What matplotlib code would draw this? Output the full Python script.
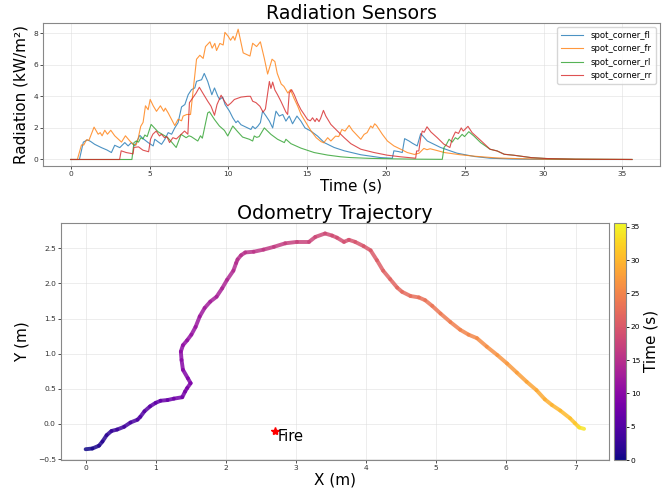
import matplotlib
matplotlib.use("Agg")
import matplotlib.pyplot as plt
import numpy as np
from matplotlib.collections import LineCollection

# radiation sensors (time s, kW/m2)
fl_t = [0, 0.55, 0.8, 1.06, 1.25, 1.52, 1.95, 2.3, 2.58, 2.79, 3.11, 3.43, 3.64, 3.85, 4.06, 4.38, 4.59,
        4.91, 5.23, 5.33, 5.5, 5.76, 5.97, 6.18, 6.4, 6.6, 6.81, 7.03, 7.24, 7.45, 7.66, 7.87, 7.98, 8.3,
        8.47, 8.69, 8.95, 9.12, 9.33, 9.45, 9.64, 9.79, 10.07, 10.28, 10.48, 10.6, 10.8, 11.22, 11.43,
        11.54, 11.7, 11.86, 12.03, 12.17, 12.39, 12.6, 12.81, 13.02, 13.23, 13.45, 13.65, 13.86, 14.07,
        14.35, 14.6, 14.86, 15.23, 15.66, 16.08, 16.71, 17.35, 18.4, 19.66, 20.4, 20.5, 20.8, 21.03,
        21.18, 21.46, 21.67, 21.98, 22.2, 22.62, 23.46, 24.5, 25.6, 26.6, 28, 30, 33, 35.6]
fl_v = [0, 0, 1.1, 1.24, 1.15, 0.96, 0.75, 0.6, 0.44, 0.9, 0.75, 1.07, 0.86, 1.07, 0.86, 1.53, 1.32,
        1.07, 0.86, 1.28, 1.15, 0.96, 1.28, 1.7, 1.6, 2.0, 2.33, 3.33, 3.48, 4.1, 4.42, 4.53, 4.95, 5.05,
        5.45, 4.94, 4.1, 4.53, 4.0, 3.8, 3.95, 3.48, 3.06, 2.64, 2.33, 2.45, 2.2, 2.0, 1.9,
        2.1, 1.95, 2.1, 2.33, 3.06, 2.75, 2.43, 2.0, 3.06, 2.75, 2.85, 2.43, 2.75, 2.26,
        2.75, 2.43, 2.0, 1.8, 1.48, 1.07, 0.76, 0.55, 0.3, 0.12, 0.08, 0.55, 0.5, 0.44,
        1.32, 1.17, 1.03, 0.86, 1.64, 1.17, 0.76, 0.4, 0.19, 0.08, 0.03, 0.01, 0, 0]

fr_t = [0, 0.42, 0.68, 0.83, 1.0, 1.15, 1.48, 1.74, 1.87, 1.99, 2.16, 2.33, 2.54, 2.79, 3.22, 3.47, 3.75,
        3.96, 4.15, 4.27, 4.44, 4.59, 4.74, 4.91, 5.04, 5.23, 5.44, 5.69, 5.9, 6.0, 6.18, 6.6, 6.81, 7.03,
        7.13, 7.36, 7.6, 7.98, 8.19, 8.4, 8.55, 8.83, 8.97, 9.14, 9.25, 9.46, 9.67, 9.78, 9.99, 10.14,
        10.3, 10.41, 10.62, 10.79, 10.94, 11.37, 11.54, 11.79, 12.03, 12.28, 12.49, 12.77, 12.95, 13.1,
        13.35, 13.52, 13.77, 13.94, 14.15, 14.4, 14.61, 14.93, 15.25, 15.57, 15.88, 16.05, 16.3, 16.5,
        16.8, 17.0, 17.2, 17.4, 17.66, 17.87, 18.4, 18.61, 18.8, 19.03, 19.15, 19.28, 19.4, 19.77, 20.09,
        20.5, 20.93, 21.35, 21.8, 22.1, 22.4, 22.6, 22.8, 23.3, 23.7, 24.7, 25.7, 27, 28.5, 30, 32, 35.6]
fr_v = [0, 0, 0.92, 0.92, 1.25, 1.2, 2.05, 1.6, 1.7, 1.5, 1.85, 1.6, 1.85, 1.5, 1.1, 1.5, 1.17,
        0.96, 0.92, 1.3, 2.1, 2.35, 3.4, 3.15, 3.8, 3.4, 3.05, 3.4, 3.05, 3.25, 2.95, 2.15, 2.55, 2.45,
        2.75, 2.85, 2.85, 6.35, 6.6, 6.4, 7.15, 7.45, 7.05, 7.35, 6.9, 7.35, 7.25, 8.05, 7.8, 7.55,
        7.8, 7.55, 8.25, 7.45, 6.75, 6.55, 7.36, 7.15, 7.45, 6.4, 5.41, 6.35, 6.2, 5.45,
        4.78, 4.63, 4.21, 4.42, 3.9, 3.37, 2.85, 2.32, 1.8, 1.38, 1.13, 1.06, 1.38, 1.17,
        1.48, 1.45, 1.9, 1.8, 2.16, 1.84, 1.28, 1.59, 1.7, 2.12, 2.0, 2.26, 2.15, 1.59, 1.17,
        0.86, 0.65, 0.44, 0.32, 0.4, 0.7, 0.62, 0.68, 0.55, 0.44, 0.3, 0.2, 0.1, 0.05, 0.02, 0.01, 0]

rl_t = [0, 3.88, 4.01, 4.16, 4.3, 4.45, 4.58, 4.7, 4.85, 5.1, 5.53, 6.16, 6.69, 7.0, 7.32, 7.5, 7.64,
        8.06, 8.23, 8.35, 8.69, 8.8, 9.12, 9.43, 9.75, 9.96, 10.28, 10.59, 10.9, 11.33, 11.54, 11.64,
        11.8, 11.95, 12.28, 12.7, 13.12, 13.55, 13.65, 13.97, 14.6, 15.44, 16.29, 17.13, 17.77, 19, 20.5,
        22, 23.57, 23.68, 23.84, 24.0, 24.2, 24.4, 24.55, 24.83, 24.98, 25.25, 25.57, 26.0, 26.6, 27.05,
        27.5, 28.1, 29.2, 30.2, 32, 35.6]
rl_v = [0, 0, 1.07, 1.17, 1.1, 1.38, 1.3, 1.55, 1.45, 2.22, 1.76, 1.38, 0.76, 1.59, 1.38, 1.5, 1.45,
        1.17, 1.5, 1.35, 2.95, 3.02, 2.53, 2.12, 1.84, 1.49, 2.12, 1.76, 1.42, 1.28, 1.17, 1.49,
        1.4, 1.45, 2.0, 1.59, 1.28, 1.07, 1.28, 1.0, 0.72, 0.44, 0.28, 0.17, 0.12, 0.07, 0.04,
        0.02, 0.01, 0.76, 0.97, 1.28, 1.1, 1.38, 1.28, 1.59, 1.45, 1.76, 1.49, 1.07, 0.65, 0.54,
        0.33, 0.27, 0.12, 0.06, 0.02, 0]

rr_t = [0, 3.1, 3.2, 3.52, 3.84, 3.95, 4.01, 4.3, 4.58, 4.94, 5.06, 5.21, 5.42, 5.63, 5.75, 5.95, 6.1,
        6.27, 6.48, 6.7, 7.0, 7.22, 7.43, 7.53, 7.74, 7.95, 8.16, 8.38, 8.69, 8.9, 9.12, 9.28, 9.54,
        9.75, 9.96, 10.17, 10.38, 10.8, 11.22, 11.4, 11.54, 11.75, 12.0, 12.2, 12.35, 12.6, 12.7, 12.81,
        12.95, 13.12, 13.33, 13.65, 13.76, 13.86, 14.01, 14.18, 14.39, 14.6, 14.81, 15.02, 15.2, 15.34,
        15.5, 15.6, 15.75, 15.85, 16.03, 16.18, 16.5, 16.92, 17.35, 17.77, 18.4, 19.24, 20.09, 20.93,
        21.88, 21.94, 22.08, 22.2, 22.3, 22.42, 22.6, 22.85, 23.25, 23.67, 24.05, 24.2, 24.4, 24.6,
        24.77, 24.9, 25.2, 25.46, 25.99, 26.6, 27.05, 27.5, 28.1, 29.2, 30.2, 32, 35.6]
rr_v = [0, 0, 0.55, 0.44, 0.38, 0.35, 0.76, 0.8, 0.59, 0.49, 1.28, 1.6, 1.8, 1.49, 1.6, 1.38, 1.45,
        1.07, 1.38, 1.3, 1.59, 1.8, 1.6, 3.6, 3.9, 4.2, 4.57, 4.2, 3.69, 3.37, 2.8, 3.48, 4.07,
        3.69, 3.4, 3.58, 3.8, 3.95, 4.0, 4.0, 3.69, 3.6, 3.37, 3.0, 3.2, 4.94, 4.5, 4.9,
        4.4, 4.1, 3.69, 3.0, 2.85, 4.2, 4.42, 4.1, 3.58, 3.16, 2.85, 2.53, 2.45, 2.64,
        2.4, 2.6, 2.4, 2.6, 3.11, 2.75, 2.22, 1.8, 1.38, 1.0, 0.65, 0.44, 0.27, 0.17,
        0.08, 0.54, 0.54, 1.38, 1.8, 1.72, 2.07, 1.74, 1.38, 0.97, 0.76, 1.32, 1.74, 1.65,
        2.0, 1.8, 2.1, 1.7, 1.22, 0.65, 0.54, 0.33, 0.27, 0.12, 0.06, 0.02, 0]

sensor_names = ["spot_corner_fl", "spot_corner_fr", "spot_corner_rl", "spot_corner_rr"]

# odometry trajectory (m) and time stamps (s)
traj_x = [0, 0.095, 0.19, 0.24, 0.30, 0.37, 0.45, 0.55, 0.64, 0.74, 0.78, 0.84, 0.92, 1.0, 1.07, 1.17,
          1.26, 1.38, 1.42, 1.45, 1.50, 1.46, 1.39, 1.37, 1.36, 1.39, 1.45, 1.51, 1.57, 1.63, 1.70, 1.78,
          1.87, 1.95, 2.02, 2.11, 2.15, 2.17, 2.22, 2.28, 2.40, 2.54, 2.69, 2.85, 3.02, 3.19, 3.28, 3.42,
          3.52, 3.59, 3.69, 3.76, 3.85, 3.97, 4.07, 4.16, 4.25, 4.35, 4.45, 4.52, 4.64, 4.76, 4.85, 4.95,
          5.07, 5.21, 5.35, 5.47, 5.59, 5.73, 5.88, 6.02, 6.16, 6.30, 6.44, 6.56, 6.66, 6.78, 6.92, 6.99,
          7.05, 7.12]
traj_y = [-0.36, -0.35, -0.31, -0.25, -0.16, -0.10, -0.08, -0.04, 0.02, 0.06, 0.10, 0.18, 0.25, 0.30,
          0.33, 0.34, 0.36, 0.38, 0.46, 0.51, 0.58, 0.65, 0.77, 0.91, 1.03, 1.12, 1.19, 1.27, 1.38, 1.53,
          1.65, 1.74, 1.81, 1.93, 2.05, 2.18, 2.29, 2.34, 2.40, 2.44, 2.45, 2.48, 2.52, 2.57, 2.59, 2.59,
          2.66, 2.71, 2.68, 2.65, 2.59, 2.62, 2.59, 2.53, 2.47, 2.33, 2.18, 2.06, 1.94, 1.88, 1.82, 1.80,
          1.76, 1.68, 1.57, 1.45, 1.34, 1.27, 1.22, 1.10, 0.98, 0.86, 0.73, 0.60, 0.48, 0.35, 0.27, 0.19,
          0.08, 0.01, -0.05, -0.07]
traj_t = [0, 0.5, 1.0, 1.4, 1.9, 2.4, 2.9, 3.5, 4.0, 4.5, 4.8, 5.2, 5.7, 6.1, 6.5, 7.0, 7.4, 7.9, 8.2,
          8.5, 8.8, 9.1, 9.5, 9.9, 10.3, 10.6, 10.9, 11.2, 11.6, 12.0, 12.4, 12.7, 13.0, 13.4, 13.8, 14.2,
          14.5, 14.7, 14.9, 15.1, 15.4, 15.8, 16.2, 16.7, 17.1, 17.5, 17.8, 18.1, 18.4, 18.6, 18.9, 19.1,
          19.3, 19.7, 20.0, 20.4, 20.8, 21.2, 21.6, 21.9, 22.3, 22.6, 22.9, 23.3, 23.7, 24.2, 24.7, 25.1,
          25.5, 26.0, 26.5, 27.0, 27.5, 28.0, 28.5, 29.0, 29.4, 29.9, 30.5, 31.0, 32.0, 35.6]
fire_x, fire_y = 2.7, -0.1

TITLE = 13.7
LABEL = 11
TICK = 5.4

fig = plt.figure(figsize=(6.71, 4.92), dpi=100)
ax1 = fig.add_axes([0.0636, 0.6626, 0.92, 0.2913])
ax2 = fig.add_axes([0.0905, 0.065, 0.8171, 0.4824])
cax = fig.add_axes([0.9155, 0.065, 0.0174, 0.4824])

# --- radiation sensors
series = [(fl_t, fl_v), (fr_t, fr_v), (rl_t, rl_v), (rr_t, rr_v)]
colors = ["#1f77b4", "#ff7f0e", "#2ca02c", "#d62728"]
for (t, v), name, c in zip(series, sensor_names, colors):
    ax1.plot(t, v, color=c, lw=0.8, alpha=0.8, label=name)
ax1.set_title("Radiation Sensors", fontsize=TITLE, pad=3)
ax1.set_xlabel("Time (s)", fontsize=LABEL, labelpad=1)
ax1.set_ylabel("Radiation (kW/m²)", fontsize=LABEL, labelpad=3)
ax1.set_xticks(np.arange(0, 36, 5))
ax1.set_yticks([0, 2, 4, 6, 8])
ax1.legend(loc="upper right", fontsize=6.1, handlelength=2.6, borderpad=0.5, labelspacing=0.5)

# --- odometry trajectory coloured by time
pts = np.column_stack([traj_x, traj_y]).reshape(-1, 1, 2)
segs = np.concatenate([pts[:-1], pts[1:]], axis=1)
tt = np.array(traj_t)
norm = plt.Normalize(0, 35.6)
lc = LineCollection(segs, cmap="plasma", norm=norm, linewidths=2.8, capstyle="round", alpha=0.85)
lc.set_array((tt[:-1] + tt[1:]) / 2)
ax2.add_collection(lc)
ax2.autoscale_view()
ax2.plot(fire_x, fire_y, marker="*", color="red", markersize=6, ls="none")
ax2.text(fire_x + 0.04, fire_y + 0.03, "Fire", fontsize=10.5, va="top", ha="left")
ax2.set_title("Odometry Trajectory", fontsize=TITLE, pad=3)
ax2.set_xlabel("X (m)", fontsize=LABEL, labelpad=1)
ax2.set_ylabel("Y (m)", fontsize=LABEL, labelpad=6)
ax2.set_yticks([-0.5, 0, 0.5, 1.0, 1.5, 2.0, 2.5])

cb = fig.colorbar(lc, cax=cax)
cb.solids.set_alpha(1)
cb.set_label("Time (s)", fontsize=LABEL, labelpad=2)
cb.set_ticks(np.arange(0, 36, 5))
cb.ax.tick_params(labelsize=TICK, length=2, width=0.6, pad=1.5)
cb.outline.set_edgecolor("#888888")

for ax in (ax1, ax2):
    ax.grid(True, color="#dddddd", lw=0.6, alpha=0.6)
    ax.set_axisbelow(True)
    ax.tick_params(labelsize=TICK, length=2, width=0.6, pad=1.5, colors="#333333")
    for s in ax.spines.values():
        s.set_edgecolor("#888888")
        s.set_linewidth(0.8)

fig.savefig("out.png", dpi=100)
